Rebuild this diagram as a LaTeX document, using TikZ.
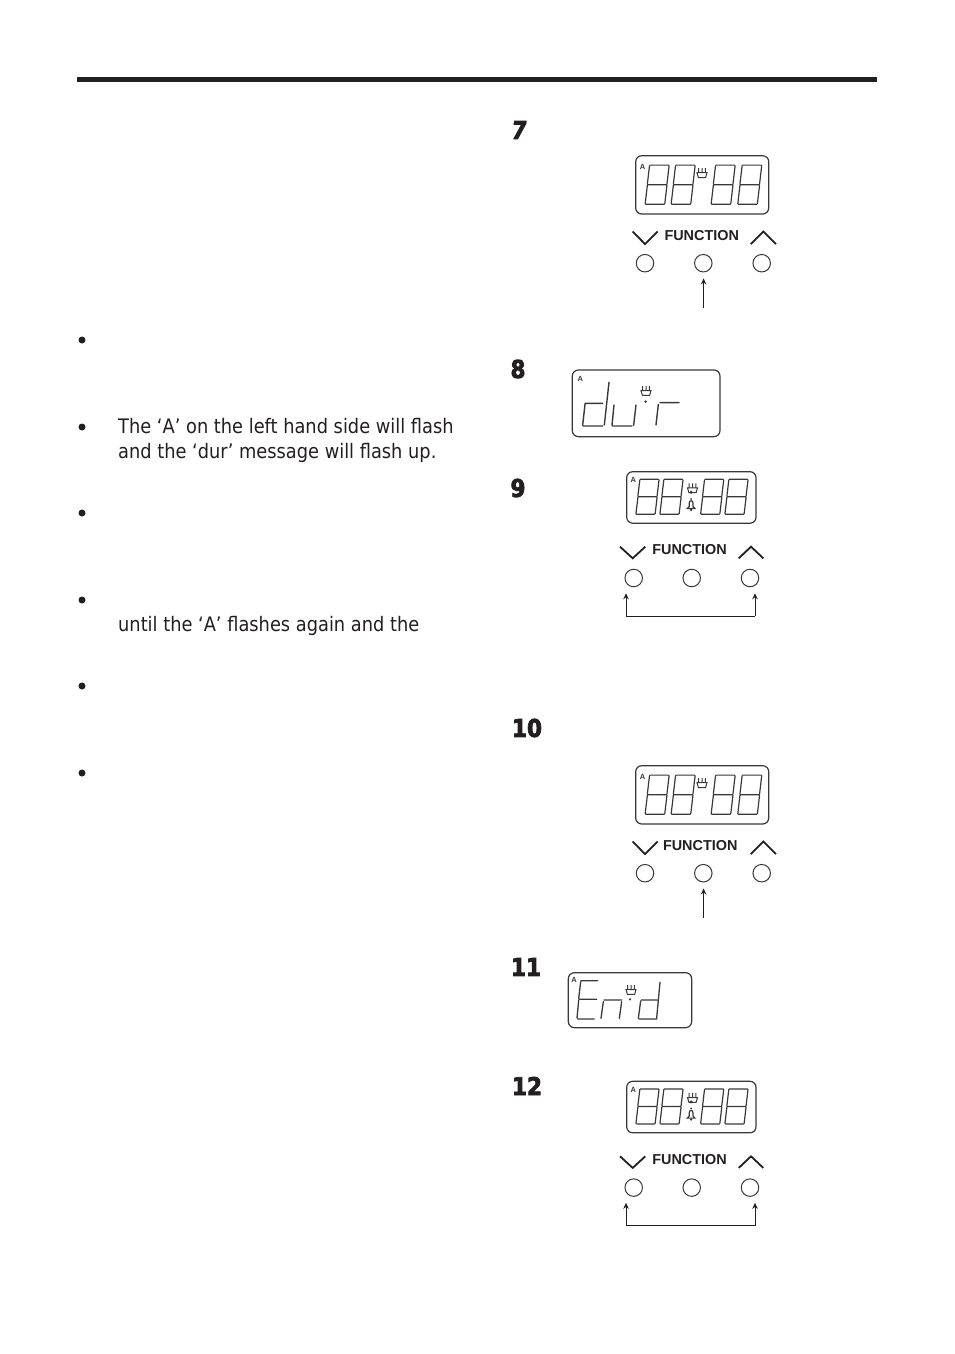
\documentclass[tikz,border=0pt]{standalone}
\usepackage{fontspec}
\usetikzlibrary{arrows.meta}
\setmainfont{DejaVu Sans}
\newfontfamily\bodyfont[FakeStretch=0.89]{DejaVu Sans}
\newfontfamily\labelfont{Liberation Sans}
\newfontfamily\numfont[FakeStretch=0.88,BoldFeatures={FakeBold=3}]{DejaVu Sans}
\newfontfamily\numslantfont[FakeStretch=0.88,BoldFeatures={FakeBold=3,FakeSlant=0.14}]{DejaVu Sans}
\definecolor{ink}{HTML}{231F20}
\definecolor{lcd}{HTML}{3A3839}
% seven-segment eight: #1,#2 top-left corner, #3 width, #4 height; the lower end leans left
\newcommand\dig[4]{%
 \pgfmathsetmacro\sxa{#1}\pgfmathsetmacro\sxb{#1+#3}%
 \pgfmathsetmacro\slantx{0.11*#4}%
 \pgfmathsetmacro\sya{#2}\pgfmathsetmacro\sym{#2+#4/2}\pgfmathsetmacro\syb{#2+#4}%
 \draw[seg] ({\sxa+.6},\sya)--({\sxb-.6},\sya)
  ({\sxa-\slantx/2+.6},\sym)--({\sxb-\slantx/2-.6},\sym)
  ({\sxa-\slantx+.6},\syb)--({\sxb-\slantx-.6},\syb)
  (\sxa,{\sya+.6})--({\sxa-\slantx/2},{\sym-.6})
  ({\sxa-\slantx/2},{\sym+.6})--({\sxa-\slantx},{\syb-.6})
  (\sxb,{\sya+.6})--({\sxb-\slantx/2},{\sym-.6})
  ({\sxb-\slantx/2},{\sym+.6})--({\sxb-\slantx},{\syb-.6});}
\newcommand\heater[2]{\begin{scope}[shift={(#1,#2)}]
 \draw[icon] (1.6,0)--(1.6,5) (5,0)--(5,5) (8.4,0)--(8.4,5)
  (0,4.6)--(10,4.6)--(8.6,9.4)--(1.4,9.4)--cycle;
 \end{scope}}
\newcommand\bell[2]{\begin{scope}[shift={(#1,#2)}]
 \draw[icon,line width=1.2pt] (-1.8,7) -- (-1.8,3.5) .. controls (-1.8,.8) and (1.8,.8) .. (1.8,3.5) -- (1.8,7) -- (3.8,9.2) -- (-3.8,9.2) -- cycle;
 \fill[lcd] (0,-.4) circle (1) (0,10.6) circle (1.3) (0,-7) circle (1.7);
 \end{scope}}
\tikzset{
 seg/.style={draw=lcd,line width=1.2pt,line cap=round},
 icon/.style={draw=lcd,line width=1pt},
 lcdbox/.style={draw=lcd,line width=1.2pt,rounded corners=6pt},
 chevron/.style={draw=ink,line width=1.8pt},
 btn/.style={circle,draw=lcd,line width=1pt,minimum size=17.5pt,inner sep=0pt},
 funclabel/.style={font=\labelfont\fontsize{14.4}{14.4}\selectfont\bfseries,text=ink,inner sep=0pt},
 alabel/.style={font=\labelfont\fontsize{7.5}{7.5}\selectfont\bfseries,text=lcd,inner sep=0pt},
 steplabel/.style={font=\numfont\fontsize{24.5}{25}\selectfont\bfseries,text=ink,inner sep=0pt},
 bodytext/.style={font=\bodyfont\fontsize{20}{24}\selectfont,text=ink,anchor=base west,inner sep=0pt},
 bulletdot/.style={circle,fill=ink,inner sep=0pt,minimum size=7pt},
 arrowline/.style={draw=ink,line width=.9pt,-{Stealth[length=6pt,width=5.5pt]}},
 plainline/.style={draw=ink,line width=.9pt},
 pics/bigpanel/.style={code={
  \draw[lcdbox] (0,0) rectangle (133,58.3);
  \node[alabel] (-a) at (6.8,11) {A};
  \dig{13.8}{9.4}{19.6}{39.2}\dig{39.8}{9.4}{19.6}{39.2}\dig{79.8}{9.4}{19.6}{39.2}\dig{106.4}{9.4}{19.6}{39.2}
  \heater{61.3}{12.4}
  \draw[chevron] (-3,75.8)--(9.3,88.4)--(22,75.8) (115,88.4)--(127.6,75.8)--(140.3,88.4);
  \node[funclabel] (-f) at (#1,80) {FUNCTION};
  \node[btn] (-l) at (9.3,107.5) {};
  \node[btn] (-m) at (67.6,107.5) {};
  \node[btn] (-r) at (126,107.5) {};
 }},
 pics/smallpanel/.style={code={
  \draw[lcdbox] (0,0) rectangle (129.3,51.5);
  \node[alabel] (-a) at (6.5,8.2) {A};
  \dig{13.1}{7.6}{19.2}{35}\dig{37.1}{7.6}{19.2}{35}\dig{77.8}{7.6}{19.2}{35}\dig{102.1}{7.6}{19.2}{35}
  \heater{60.8}{11.6}
  \bell{64.4}{27.6}
  \draw[chevron] (-6.7,75)--(6,86.6)--(18.6,75) (112,86.6)--(124.3,75)--(136.6,86.6);
  \node[funclabel] (-f) at (62.8,77.8) {FUNCTION};
  \node[btn] (-l) at (7,106.3) {};
  \node[btn] (-m) at (65,106.3) {};
  \node[btn] (-r) at (123.3,106.3) {};
  \coordinate (-cl) at (-0.7,144.5);
  \coordinate (-cr) at (128.3,144.5);
  \draw[arrowline,shorten >=6pt] (-cl) -- (-cl |- -l.south);
  \draw[arrowline,shorten >=6pt] (-cr) -- (-cr |- -r.south);
  \draw[plainline] (-cl) -- (-cr);
 }}
}
\begin{document}
\begin{tikzpicture}[x=1pt,y=-1pt]
\useasboundingbox (0,0) rectangle (954,1354);
\fill[ink] (77,76.8) rectangle (877,81.8);

% left column
\foreach \n/\yy in {b1/340,b2/427,b3/513,b4/600,b5/686,b6/773}
  \node[bulletdot] (\n) at (82,\yy) {};
\node[bodytext] (t1) at (118,433.5) {The ‘A’ on the left hand side will flash};
\node[bodytext] (t2) at (118,458) {and the ‘dur’ message will flash up.};
\node[bodytext] (t3) at (118,631) {until the ‘A’ flashes again and the};

% step numbers
\node[steplabel,font=\numslantfont\fontsize{24.5}{25}\selectfont\bfseries] (n7) at (518,130) {7};
\node[steplabel] (n8) at (518,369) {8};
\node[steplabel] (n9) at (518,488) {9};
\node[steplabel] (n10) at (527,728) {10};
\node[steplabel] (n11) at (526,967) {11};
\node[steplabel] (n12) at (527,1086) {12};

% panel 7
\pic (p) at (635.7,155.7) {bigpanel=66};
\coordinate (p7end) at (703.6,308);
\draw[arrowline,shorten >=6pt] (p7end) -- (p7end |- p-m.south);

% panel 10
\pic (q) at (635.7,765.7) {bigpanel=64.5};
\coordinate (q7end) at (703.6,918);
\draw[arrowline,shorten >=6pt] (q7end) -- (q7end |- q-m.south);

% panel 9 and 12
\pic (r) at (626.7,471.7) {smallpanel};
\pic (s) at (626.7,1081.3) {smallpanel};

% panel 8
\begin{scope}[shift={(500,350)},x=.3333pt,y=-.3333pt]
 \draw[lcdbox] (217,60) rectangle (660,260);
 \node[alabel] (d-a) at (241,88) {A};
 \draw[seg,line width=1.4pt] (255,160)--(308,160) (255,163)--(248,226) (250,228)--(308,228) (327,97)--(313,225)
   (342,165)--(336,226) (338,228)--(396,228) (408,165)--(401,226)
   (475,163)--(468,225) (480,158)--(537,158);
 \fill[lcd] (437,155) circle (4);
\end{scope}
\heater{641}{386}

% panel 11
\begin{scope}[shift={(500,950)},x=.3333pt,y=-.3333pt]
 \draw[lcdbox] (205,68) rectangle (575,233);
 \node[alabel] (e-a) at (222,90) {A};
 \draw[seg,line width=1.3pt] (243,92)--(293,92) (242,95)--(236,146) (238,148)--(290,148) (236,151)--(231,204) (233,207)--(283,207)
   (310,155)--(303,205) (312,150)--(365,150) (365,155)--(358,205)
   (424,150)--(472,150) (422,153)--(415,205) (417,207)--(470,207) (480,97)--(470,205);
 \fill[lcd] (390,148) circle (3.5);
\end{scope}
\heater{626}{985}
\end{tikzpicture}
\end{document}
